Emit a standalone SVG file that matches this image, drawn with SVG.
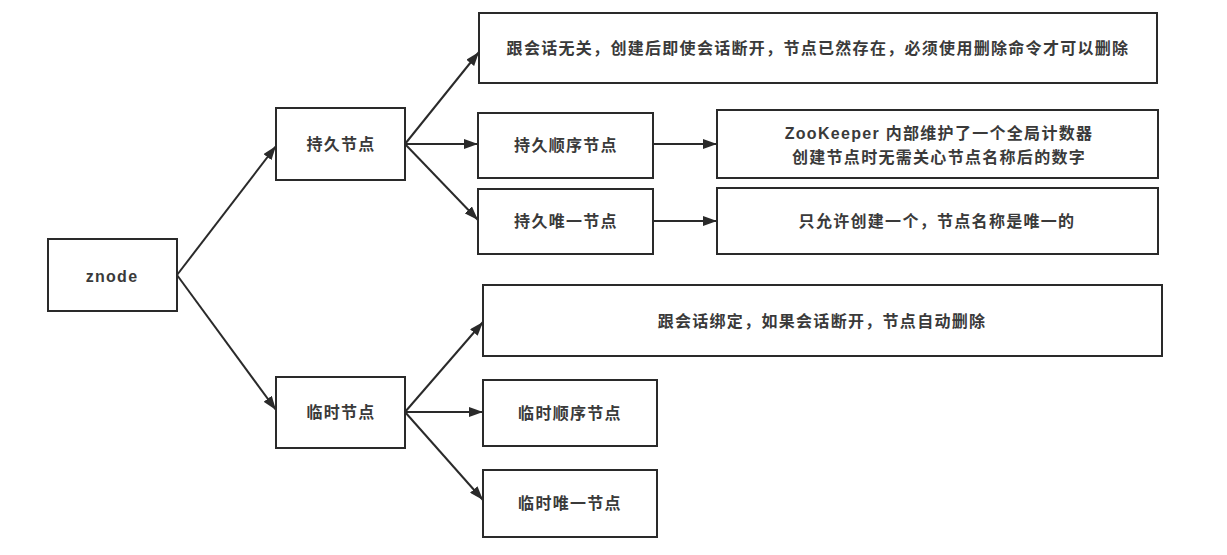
<svg xmlns="http://www.w3.org/2000/svg" width="1227" height="555" viewBox="0 0 1227 555">
<style>
.box{fill:#fff;stroke:#2a2a2a;stroke-width:2}
.t{font-family:"Liberation Sans","Noto Sans CJK SC",sans-serif;font-size:16px;font-weight:bold;fill:#3a3a3a;text-anchor:middle;dominant-baseline:central;letter-spacing:1.3px}
.c{stroke:#2a2a2a;stroke-width:2;fill:none;marker-end:url(#ah)}
</style>
<defs>
<marker id="ah" viewBox="0 0 14 10" refX="14" refY="5" markerWidth="14" markerHeight="10" markerUnits="userSpaceOnUse" orient="auto">
<path d="M0,0 L14,5 L0,10 Z" fill="#2a2a2a"/>
</marker>
</defs>
<rect width="1227" height="555" fill="#fff"/>
<g id="connectors">
<line class="c" x1="177" y1="275" x2="276" y2="146"/>
<line class="c" x1="177" y1="275" x2="276" y2="410"/>
<line class="c" x1="405" y1="144" x2="479" y2="52"/>
<line class="c" x1="405" y1="144" x2="478" y2="144"/>
<line class="c" x1="405" y1="144" x2="478" y2="220"/>
<line class="c" x1="653" y1="144" x2="717" y2="144"/>
<line class="c" x1="653" y1="221" x2="717" y2="221"/>
<line class="c" x1="405" y1="412" x2="483" y2="322"/>
<line class="c" x1="405" y1="412" x2="483" y2="412"/>
<line class="c" x1="405" y1="412" x2="483" y2="500"/>
</g>
<g id="znode"><rect class="box" x="48" y="239" width="129" height="72"/><text class="t" x="112" y="276">znode</text></g>
<g id="persistent"><rect class="box" x="276" y="108" width="129" height="72"/><text class="t" x="341" y="144">持久节点</text></g>
<g id="ephemeral"><rect class="box" x="276" y="377" width="129" height="71"/><text class="t" x="341" y="412">临时节点</text></g>
<g id="persistent-desc"><rect class="box" x="479" y="13" width="678" height="70"/><text class="t" x="818" y="48">跟会话无关，创建后即使会话断开，节点已然存在，必须使用删除命令才可以删除</text></g>
<g id="persistent-seq"><rect class="box" x="478" y="113" width="175" height="65"/><text class="t" x="566" y="145">持久顺序节点</text></g>
<g id="persistent-unique"><rect class="box" x="478" y="189" width="175" height="65"/><text class="t" x="566" y="221">持久唯一节点</text></g>
<g id="seq-desc"><rect class="box" x="717" y="110" width="441" height="68"/><text class="t" x="939" y="133">ZooKeeper 内部维护了一个全局计数器</text><text class="t" x="939" y="157">创建节点时无需关心节点名称后的数字</text></g>
<g id="unique-desc"><rect class="box" x="717" y="188" width="441" height="66"/><text class="t" x="937" y="221">只允许创建一个，节点名称是唯一的</text></g>
<g id="ephemeral-desc"><rect class="box" x="483" y="285" width="679" height="71"/><text class="t" x="822" y="321">跟会话绑定，如果会话断开，节点自动删除</text></g>
<g id="ephemeral-seq"><rect class="box" x="483" y="380" width="174" height="66"/><text class="t" x="570" y="413">临时顺序节点</text></g>
<g id="ephemeral-unique"><rect class="box" x="483" y="470" width="174" height="67"/><text class="t" x="570" y="503">临时唯一节点</text></g>
</svg>
